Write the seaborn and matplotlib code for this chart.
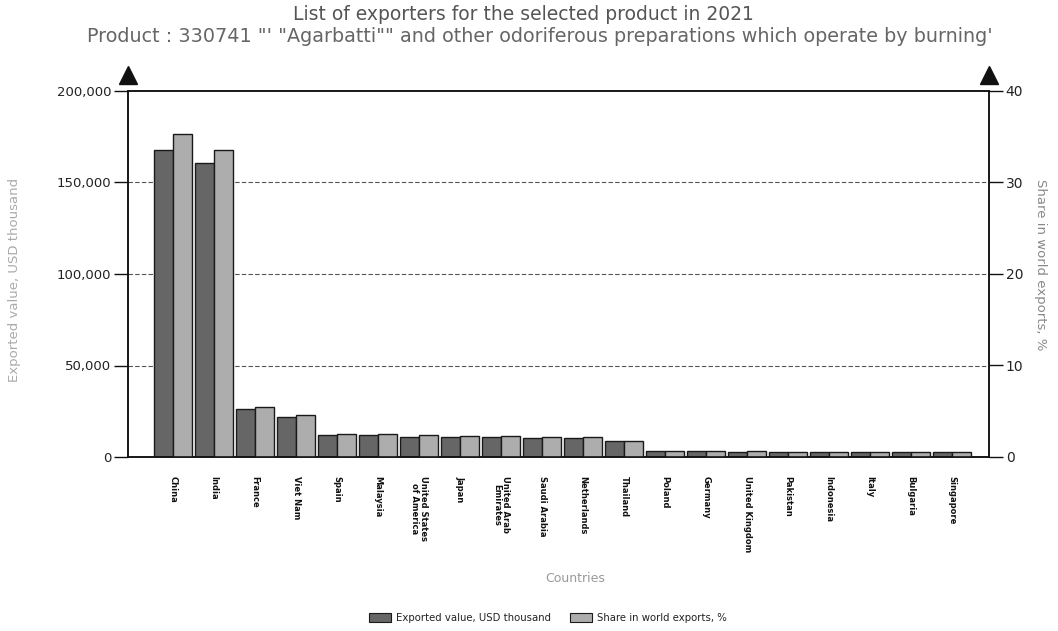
import matplotlib
matplotlib.use("Agg")
import matplotlib.pyplot as plt
import matplotlib.transforms as mtransforms
from matplotlib.patches import Patch
from matplotlib.ticker import FuncFormatter
import pandas as pd
import seaborn as sns

# Exporters of product 330741 in 2021
countries = [
    "China", "India", "France", "Viet Nam", "Spain", "Malaysia",
    "United States\nof America", "Japan", "United Arab\nEmirates",
    "Saudi Arabia", "Netherlands", "Thailand", "Poland", "Germany",
    "United Kingdom", "Pakistan", "Indonesia", "Italy", "Bulgaria", "Singapore",
]
exported_value = [
    168000, 160400, 26200, 21600, 12000, 11800, 11200, 11000, 10800,
    10500, 10200, 8600, 3400, 3200, 3000, 2900, 2800, 2700, 2600, 2500,
]
world_share = [
    35.3, 33.5, 5.5, 4.6, 2.5, 2.47, 2.35, 2.3, 2.26,
    2.2, 2.14, 1.8, 0.7, 0.67, 0.63, 0.6, 0.59, 0.57, 0.55, 0.52,
]
series_names = ["Exported value, USD thousand", "Share in world exports, %"]
series_colors = ["#666666", "#adadad"]

title = "List of exporters for the selected product in 2021"
subtitle = ("Product : 330741 \"' \"Agarbatti\"\" and other odoriferous "
            "preparations which operate by burning'")

df = pd.concat([
    pd.DataFrame({"Country": countries, "Series": series_names[0], "Value": exported_value}),
    pd.DataFrame({"Country": countries, "Series": series_names[1], "Value": world_share}),
], ignore_index=True)

sns.set_theme(style="white")
plt.rcParams["font.family"] = ["DejaVu Sans"]

fig = plt.figure(figsize=(10.58, 6.31), dpi=100)
ax = fig.add_axes([128 / 1058, 1 - 457 / 631, (989 - 128) / 1058, (457 - 91) / 631])
ax2 = ax.twinx()

palette = dict(zip(series_names, series_colors))
for axis, name in ((ax, series_names[0]), (ax2, series_names[1])):
    sns.barplot(
        data=df[df["Series"] == name], x="Country", y="Value",
        hue="Series", hue_order=series_names, order=countries,
        palette=palette, width=0.92, gap=0.0, dodge=True,
        edgecolor="#1a1a1a", linewidth=1.0, saturation=1.0,
        legend=False, ax=axis,
    )

ax.set_ylim(0, 200000)
ax2.set_ylim(0, 40)
ax.set_xlim(-1.1, len(countries) - 0.1)

ax.set_yticks([0, 50000, 100000, 150000, 200000])
ax.yaxis.set_major_formatter(FuncFormatter(lambda v, p: f"{int(v):,}"))
ax2.set_yticks([0, 10, 20, 30, 40])

for y in (50000, 100000, 150000):
    ax.axhline(y, color="#555555", lw=0.8, ls=(0, (4, 2)), zorder=0)

for axis in (ax, ax2):
    for side in ("left", "right", "top", "bottom"):
        axis.spines[side].set_color("#111111")
        axis.spines[side].set_linewidth(1.1)
    axis.set_xlabel("")
    axis.set_ylabel("")

ax.tick_params(axis="y", direction="out", length=10, width=1.0, color="#111111",
               labelsize=9.5, labelcolor="#222222", pad=2, left=True)
ax2.tick_params(axis="y", direction="out", length=10, width=1.0, color="#111111",
                labelsize=10, labelcolor="#222222", pad=2, right=True)
ax.tick_params(axis="x", length=0, pad=14)
ax.set_xticks(range(len(countries)))
ax.set_xticklabels(countries, rotation=270, fontsize=6, fontweight="bold",
                   color="#111111", va="top", ha="center", linespacing=1.0)

# arrow heads capping both value axes
lift = mtransforms.ScaledTranslation(0, 16 / 100, fig.dpi_scale_trans)
for xpos in (0.0, 1.0):
    ax.plot([xpos], [1.0], marker="^", markersize=13, color="#111111", linestyle="none",
            transform=ax.transAxes + lift, clip_on=False, zorder=5)

fig.text(0.495, 1 - 14 / 631, title, ha="center", va="center", fontsize=13.5, color="#555555")
fig.text(0.51, 1 - 36 / 631, subtitle, ha="center", va="center", fontsize=13.8, color="#666666")
fig.text(15 / 1058, 1 - 280 / 631, series_names[0], rotation=90, ha="center", va="center",
         fontsize=9.5, color="#aaaaaa")
fig.text(1040 / 1058, 1 - 265 / 631, series_names[1], rotation=270, ha="center", va="center",
         fontsize=9.5, color="#888888")
fig.text(575 / 1058, 1 - 578 / 631, "Countries", ha="center", va="center",
         fontsize=9, color="#999999")

handles = [Patch(facecolor=c, edgecolor="#1a1a1a", linewidth=0.8) for c in series_colors]
fig.legend(handles, series_names, loc="center", bbox_to_anchor=(548 / 1058, 1 - 618 / 631),
           ncol=2, frameon=False, fontsize=7.3, handlelength=2.2, handleheight=0.9,
           columnspacing=1.8, handletextpad=0.5, labelcolor="#222222")

fig.savefig("out.png", dpi=100, facecolor="white")
